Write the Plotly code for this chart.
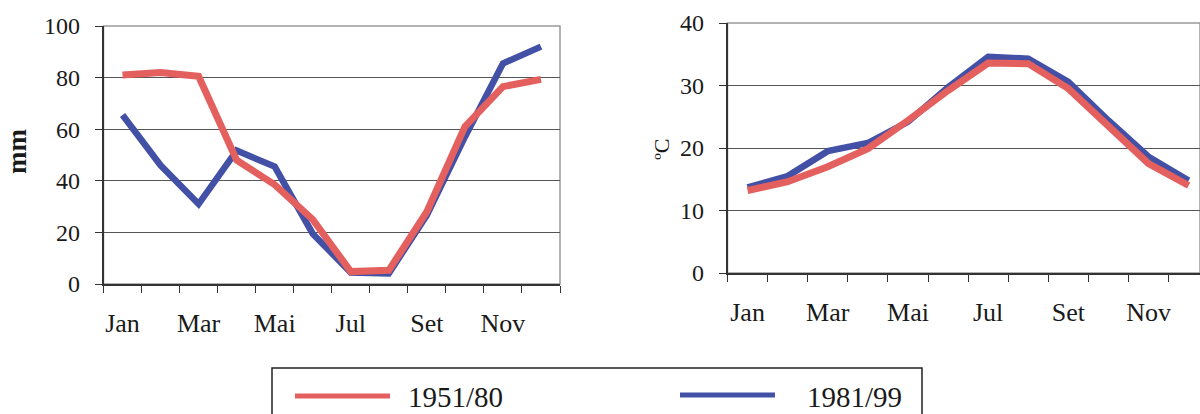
import plotly.graph_objects as go

# ---- data ----
months = ["Jan", "Fev", "Mar", "Abr", "Mai", "Jun", "Jul", "Ago", "Set", "Out", "Nov", "Dez"]
month_labels = ["Jan", "", "Mar", "", "Mai", "", "Jul", "", "Set", "", "Nov", ""]
series_names = ["1951/80", "1981/99"]
precip_1951_80 = [81, 82, 80.5, 48, 38.5, 25, 4.8, 5.3, 28, 61, 76.5, 79.3]
precip_1981_99 = [65.5, 46, 31, 51.7, 45.5, 19.5, 4.4, 4.1, 26.7, 57, 85.5, 92]
temp_1951_80 = [13.2, 14.6, 17.0, 19.9, 24.4, 29.2, 33.6, 33.5, 29.5, 23.4, 17.5, 14.0]
temp_1981_99 = [13.7, 15.5, 19.5, 20.8, 24.2, 29.7, 34.6, 34.3, 30.6, 24.4, 18.6, 14.8]
precip_ticks = [0, 20, 40, 60, 80, 100]
temp_ticks = [0, 10, 20, 30, 40]

RED = "#E3605E"
BLUE = "#4250A6"
W, H = 1200, 414
SERIF = "Liberation Serif"


def px_x(p):
    return p / W


def px_y(p):
    return 1 - p / H


fig = go.Figure()

# left chart (precipitation): blue beneath, red on top
fig.add_trace(go.Scatter(x=months, y=precip_1981_99, name=series_names[1], mode="lines",
                         line=dict(color=BLUE, width=6.5), xaxis="x", yaxis="y", showlegend=False))
fig.add_trace(go.Scatter(x=months, y=precip_1951_80, name=series_names[0], mode="lines",
                         line=dict(color=RED, width=7), xaxis="x", yaxis="y", showlegend=False))
# right chart (temperature)
fig.add_trace(go.Scatter(x=months, y=temp_1981_99, name=series_names[1], mode="lines",
                         line=dict(color=BLUE, width=6.5), xaxis="x2", yaxis="y2", showlegend=False))
fig.add_trace(go.Scatter(x=months, y=temp_1951_80, name=series_names[0], mode="lines",
                         line=dict(color=RED, width=7), xaxis="x2", yaxis="y2", showlegend=False))

ytickfont = dict(family=SERIF, size=24, color="#1a1a1a")
xtickfont = dict(family=SERIF, size=26, color="#1a1a1a")

xcommon = dict(type="category", categoryorder="array", categoryarray=months,
               tickmode="array", tickvals=months, ticktext=month_labels, tickangle=0,
               tickson="boundaries", ticks="outside", ticklen=7, tickwidth=1.3,
               tickcolor="#333", showline=True, linecolor="#333", linewidth=1.5,
               showgrid=False, zeroline=False, tickfont=xtickfont, ticklabelstandoff=15,
               automargin=False, fixedrange=True)
ycommon = dict(ticks="outside", ticklen=7, tickwidth=1.3, tickcolor="#333",
               showline=True, linecolor="#333", linewidth=1.5,
               showgrid=True, gridcolor="#555", gridwidth=1, zeroline=False,
               tickfont=ytickfont, ticklabelstandoff=10, automargin=False, fixedrange=True)

left_dom_x = [px_x(103.5), px_x(560)]
left_dom_y = [px_y(284), px_y(26)]
right_dom_x = [px_x(727.5), 1.0]
right_dom_y = [px_y(273), px_y(23)]

# right chart is cut off by the image edge: 40.1 px per month
right_range_end = -0.5 + (W - 727.5) / 40.1

fig.update_layout(
    width=W, height=H,
    margin=dict(l=0, r=0, t=0, b=0, autoexpand=False),
    paper_bgcolor="white", plot_bgcolor="white",
    xaxis=dict(domain=left_dom_x, range=[-0.5, 11.5], anchor="y", **xcommon),
    yaxis=dict(domain=left_dom_y, range=[0, 100], tickvals=precip_ticks, anchor="x", **ycommon),
    xaxis2=dict(domain=right_dom_x, range=[-0.5, right_range_end], anchor="y2", **xcommon),
    yaxis2=dict(domain=right_dom_y, range=[0, 40], tickvals=temp_ticks, anchor="x2", **ycommon),
    showlegend=False,
)

shapes = []
# light plot frames (top/right borders)
for xr, yr in [("x domain", "y domain"), ("x2 domain", "y2 domain")]:
    shapes.append(dict(type="rect", xref=xr, yref=yr, x0=0, x1=1, y0=0, y1=1,
                       line=dict(color="#9a9a9a", width=1.5), layer="below"))

# legend box (manual, extends past bottom edge)
shapes.append(dict(type="rect", xref="paper", yref="paper",
                   x0=px_x(272), x1=px_x(922), y0=px_y(470), y1=px_y(368),
                   line=dict(color="#222", width=1.5), fillcolor="rgba(0,0,0,0)"))
legend_items = [(series_names[0], RED, 295, 390, 396, 406),
                (series_names[1], BLUE, 680, 775, 395, 805)]
annotations = []
for name, col, lx0, lx1, ly, tx in legend_items:
    shapes.append(dict(type="line", xref="paper", yref="paper",
                       x0=px_x(lx0), x1=px_x(lx1), y0=px_y(ly), y1=px_y(ly),
                       line=dict(color=col, width=5)))
    annotations.append(dict(text=name, xref="paper", yref="paper", x=px_x(tx), y=px_y(397),
                            xanchor="left", yanchor="middle", showarrow=False,
                            font=dict(family=SERIF, size=29, color="#1a1a1a")))

# axis titles
annotations.append(dict(text="<b>mm</b>", xref="paper", yref="paper", x=px_x(17), y=px_y(152),
                        xanchor="center", yanchor="middle", showarrow=False, textangle=-90,
                        font=dict(family=SERIF, size=27, color="#1a1a1a")))
annotations.append(dict(text="ºC", xref="paper", yref="paper", x=px_x(661), y=px_y(149),
                        xanchor="center", yanchor="middle", showarrow=False, textangle=-90,
                        font=dict(family=SERIF, size=22, color="#1a1a1a")))

fig.update_layout(shapes=shapes, annotations=annotations)

fig.write_html("out.html")
